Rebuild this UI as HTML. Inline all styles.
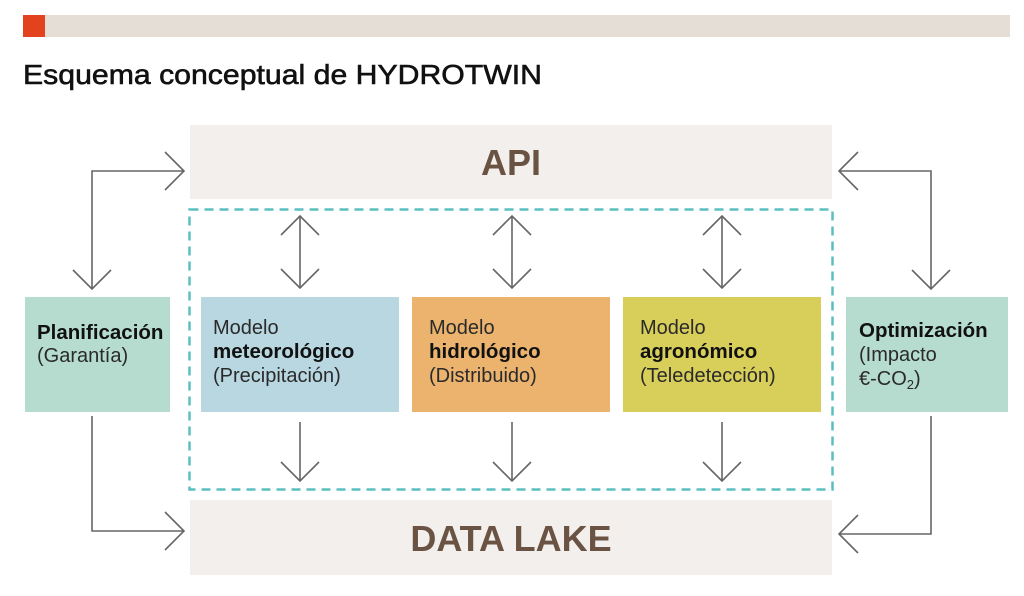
<!DOCTYPE html>
<html><head><meta charset="utf-8"><style>
body{margin:0;background:#fff}
svg{display:block;font-family:"Liberation Sans","DejaVu Sans",sans-serif}
.l{font-size:20px;fill:#2a2a2a}
.b{font-size:20.5px;font-weight:bold;fill:#111}
</style></head><body>
<svg width="1024" height="596" viewBox="0 0 1024 596">
<rect x="23" y="15" width="987" height="22" fill="#e4ded6"/>
<rect x="23" y="15" width="22" height="22" fill="#e2431e"/>
<text x="23" y="84" font-size="28" fill="#111" stroke="#111" stroke-width="0.6" textLength="519" lengthAdjust="spacingAndGlyphs">Esquema conceptual de HYDROTWIN</text>
<rect x="190" y="125" width="642" height="74" fill="#f3efec"/>
<text x="511" y="175" text-anchor="middle" font-size="36" font-weight="bold" fill="#6b5344">API</text>
<rect x="190" y="500" width="642" height="75" fill="#f3efec"/>
<text x="511" y="551" text-anchor="middle" font-size="36" font-weight="bold" fill="#6b5344">DATA LAKE</text>
<rect x="189.5" y="209.5" width="643" height="280" fill="none" stroke="#5bbfc0" stroke-width="2.5" stroke-dasharray="9,6"/>
<rect x="25" y="297" width="145" height="115" fill="#b6dccf"/>
<rect x="201" y="297" width="198" height="115" fill="#b8d7e0"/>
<rect x="412" y="297" width="198" height="115" fill="#ebb36e"/>
<rect x="623" y="297" width="198" height="115" fill="#d8ce5a"/>
<rect x="846" y="297" width="162" height="115" fill="#b6dccf"/>
<text x="37" y="339" class="b">Planificación</text>
<text x="37" y="362" class="l">(Garantía)</text>
<text x="213" y="334" class="l">Modelo</text>
<text x="213" y="358" class="b">meteorológico</text>
<text x="213" y="382" class="l">(Precipitación)</text>
<text x="429" y="334" class="l">Modelo</text>
<text x="429" y="358" class="b">hidrológico</text>
<text x="429" y="382" class="l">(Distribuido)</text>
<text x="640" y="334" class="l">Modelo</text>
<text x="640" y="358" class="b">agronómico</text>
<text x="640" y="382" class="l">(Teledetección)</text>
<text x="859" y="337" class="b">Optimización</text>
<text x="859" y="361" class="l">(Impacto</text>
<text x="859" y="385" class="l">€-CO<tspan font-size="13" dy="4">2</tspan><tspan dy="-4">)</tspan></text>
<g fill="none" stroke="#666" stroke-width="1.6">
<path d="M92 289V171H184M165 152L184 171L165 190M73 270L92 289L111 270"/>
<path d="M92 416V531H184M165 512L184 531L165 550"/>
<path d="M931 289V171H839M858 152L839 171L858 190M912 270L931 289L950 270"/>
<path d="M931 416V534H839M858 515L839 534L858 553"/>
<path d="M300 216V288M281 235L300 216L319 235M281 269L300 288L319 269"/>
<path d="M512 216V288M493 235L512 216L531 235M493 269L512 288L531 269"/>
<path d="M722 216V288M703 235L722 216L741 235M703 269L722 288L741 269"/>
<path d="M300 422V481M281 462L300 481L319 462"/>
<path d="M512 422V481M493 462L512 481L531 462"/>
<path d="M722 422V481M703 462L722 481L741 462"/>
</g>
</svg>
</body></html>
